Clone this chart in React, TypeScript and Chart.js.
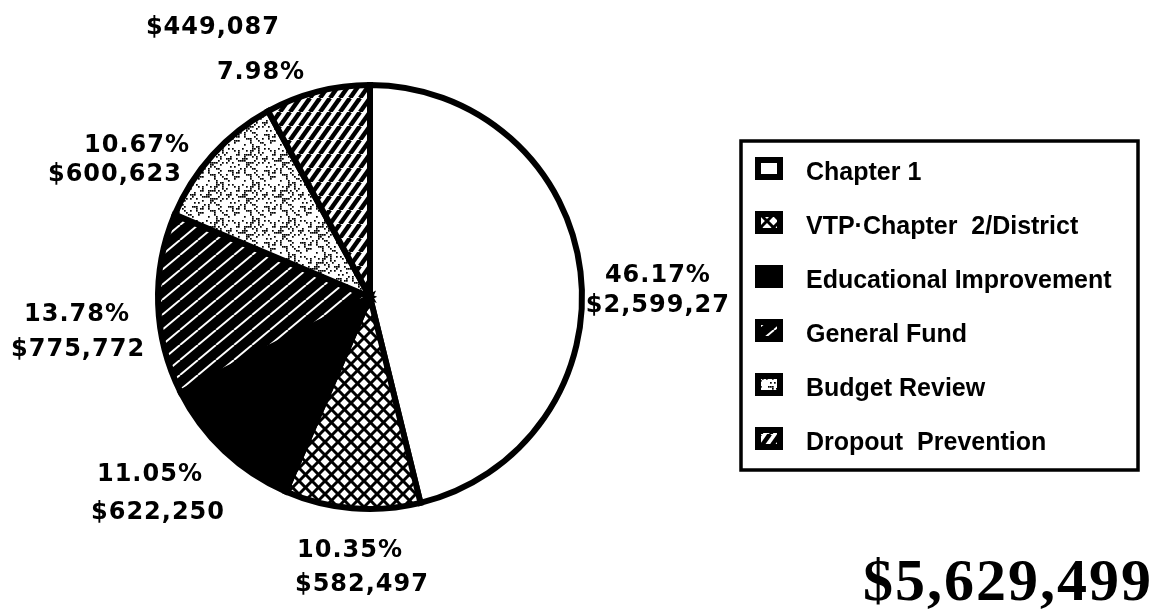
import React, { useEffect, useRef } from 'react';
import { Chart, registerables } from 'chart.js';

Chart.register(...registerables);

// ---- data ----
const categories = [
  'Chapter 1',
  'VTP-Chapter 2/District',
  'Educational Improvement',
  'General Fund',
  'Budget Review',
  'Dropout Prevention',
];
const legendLabels = [
  'Chapter 1',
  'VTP\u00B7Chapter  2/District',
  'Educational Improvement',
  'General Fund',
  'Budget Review',
  'Dropout  Prevention',
];
const values = [2599270, 582497, 622250, 775772, 600623, 449087];
const percentLabels = ['46.17%', '10.35%', '11.05%', '13.78%', '10.67%', '7.98%'];
const amountLabels = ['$2,599,27', '$582,497', '$622,250', '$775,772', '$600,623', '$449,087'];
const totalLabel = '$5,629,499';

// ---- styling / layout (not data) ----
type Kind = 'white' | 'crosshatch' | 'black' | 'whiteStripes' | 'stipple' | 'blackStripes';
const fillKinds: Kind[] = ['white', 'crosshatch', 'black', 'whiteStripes', 'stipple', 'blackStripes'];

// label line centres relative to pie centre, in units of the radius
const labelLines: { first: 'pct' | 'amt'; l1: [number, number]; l2: [number, number] }[] = [
  { first: 'pct', l1: [1.358, -0.113], l2: [1.358, 0.028] },
  { first: 'pct', l1: [-0.094, 1.184], l2: [-0.038, 1.344] },
  { first: 'pct', l1: [-1.038, 0.825], l2: [-1.0, 1.005] },
  { first: 'pct', l1: [-1.382, 0.071], l2: [-1.377, 0.236] },
  { first: 'pct', l1: [-1.099, -0.726], l2: [-1.203, -0.59] },
  { first: 'amt', l1: [-0.741, -1.283], l2: [-0.514, -1.071] },
];

function makePattern(kind: Kind): CanvasPattern | string {
  if (kind === 'white') return '#ffffff';
  if (kind === 'black') return '#000000';
  const c = document.createElement('canvas');
  const ctx = c.getContext('2d')!;
  if (kind === 'crosshatch') {
    const s = 13;
    c.width = s; c.height = s;
    ctx.fillStyle = '#fff'; ctx.fillRect(0, 0, s, s);
    ctx.strokeStyle = '#000'; ctx.lineWidth = 3;
    for (let k = -1; k <= 1; k++) {
      ctx.beginPath(); ctx.moveTo(k * s, s); ctx.lineTo(k * s + s, 0); ctx.stroke();
      ctx.beginPath(); ctx.moveTo(k * s, 0); ctx.lineTo(k * s + s, s); ctx.stroke();
    }
  } else if (kind === 'whiteStripes') {
    // black with thin white "/" lines (~40deg)
    const w = 18, h = 15;
    c.width = w; c.height = h;
    ctx.fillStyle = '#000'; ctx.fillRect(0, 0, w, h);
    ctx.strokeStyle = '#fff'; ctx.lineWidth = 2;
    for (let k = -1; k <= 1; k++) {
      ctx.beginPath(); ctx.moveTo(k * w, h); ctx.lineTo(k * w + w, 0); ctx.stroke();
    }
  } else if (kind === 'blackStripes') {
    // white with thick black "/" lines (~55deg)
    const w = 10, h = 14;
    c.width = w; c.height = h;
    ctx.fillStyle = '#fff'; ctx.fillRect(0, 0, w, h);
    ctx.strokeStyle = '#000'; ctx.lineWidth = 4.5;
    for (let k = -1; k <= 1; k++) {
      ctx.beginPath(); ctx.moveTo(k * w, h); ctx.lineTo(k * w + w, 0); ctx.stroke();
    }
  } else if (kind === 'stipple') {
    const s = 36;
    c.width = s; c.height = s;
    ctx.fillStyle = '#fff'; ctx.fillRect(0, 0, s, s);
    ctx.fillStyle = '#000';
    for (let i = 0; i < s / 2; i++) {
      for (let j = 0; j < s / 2; j++) {
        const hsh = ((i * 73856093) ^ (j * 19349663) ^ ((i + j) * 83492791)) >>> 0;
        const cluster = ((Math.floor(i / 3) + Math.floor(j / 3)) % 2 === 0) ? 42 : 12;
        if (hsh % 100 < cluster) ctx.fillRect(i * 2, j * 2, 1.7, 1.7);
      }
    }
  }
  return ctx.createPattern(c, 'repeat')!;
}

export default function App() {
  const ref = useRef<HTMLCanvasElement | null>(null);

  useEffect(() => {
    const canvas = ref.current;
    if (!canvas) return;
    const fills = fillKinds.map(makePattern);

    const labelPlugin = {
      id: 'sliceLabels',
      afterDraw(chart: any) {
        const ctx: CanvasRenderingContext2D = chart.ctx;
        const meta = chart.getDatasetMeta(0);
        const arc0 = meta.data[0] as any;
        const cx = arc0.x, cy = arc0.y, r = arc0.outerRadius;
        ctx.save();
        ctx.fillStyle = '#000';
        ctx.font = 'bold 24px "DejaVu Sans"';
        (ctx as any).letterSpacing = '1px';
        ctx.textAlign = 'center';
        ctx.textBaseline = 'alphabetic';
        values.forEach((_, i) => {
          const L = labelLines[i];
          const t1 = L.first === 'pct' ? percentLabels[i] : amountLabels[i];
          const t2 = L.first === 'pct' ? amountLabels[i] : percentLabels[i];
          ctx.fillText(t1, cx + L.l1[0] * r, cy + L.l1[1] * r + 9);
          ctx.fillText(t2, cx + L.l2[0] * r, cy + L.l2[1] * r + 9);
        });
        ctx.restore();

        // legend box
        ctx.save();
        const bx = 741, by = 141, bw = 397, bh = 329;
        ctx.lineWidth = 3.5;
        ctx.strokeStyle = '#000';
        ctx.strokeRect(bx, by, bw, bh);
        ctx.font = 'bold 25px "Liberation Sans"';
        ctx.textAlign = 'left';
        ctx.textBaseline = 'alphabetic';
        legendLabels.forEach((lab, i) => {
          const base = 180 + i * 54;
          const ix = 755, iy = base - 23, iw = 28, ih = 23;
          ctx.fillStyle = '#000';
          ctx.fillRect(ix, iy, iw, ih);
          ctx.fillStyle = fills[i] as any;
          ctx.fillRect(ix + 6, iy + 6, iw - 12, ih - 12);
          ctx.fillStyle = '#000';
          ctx.fillText(lab, 806, base);
        });

        // total
        ctx.font = 'bold 60px "Liberation Serif"';
        (ctx as any).letterSpacing = '2px';
        ctx.textAlign = 'right';
        ctx.fillText(totalLabel, 1153, 600);
        ctx.restore();
      },
    };

    const chart = new Chart(canvas, {
      type: 'pie',
      data: {
        labels: categories,
        datasets: [
          {
            data: values,
            backgroundColor: fills as any,
            borderColor: '#000',
            borderWidth: 6,
            borderJoinStyle: 'miter',
          } as any,
        ],
      },
      options: {
        animation: false,
        responsive: false,
        maintainAspectRatio: false,
        events: [],
        layout: { padding: { left: 155, top: 82, right: 570, bottom: 101 } },
        plugins: {
          legend: { display: false },
          tooltip: { enabled: false },
        },
      },
      plugins: [labelPlugin],
    });
    return () => chart.destroy();
  }, []);

  return (
    <div style={{ position: 'fixed', left: 0, top: 0, width: 1155, height: 613, background: '#fff' }}>
      <canvas ref={ref} width={1155} height={613} style={{ display: 'block', width: 1155, height: 613 }} />
    </div>
  );
}
